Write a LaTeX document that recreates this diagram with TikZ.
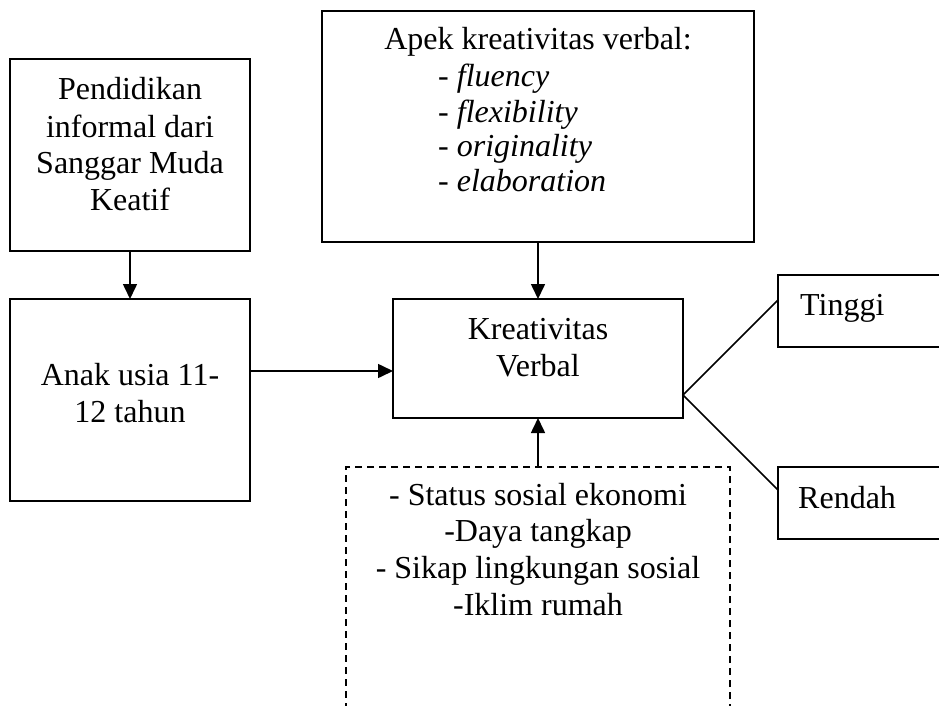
\documentclass[tikz,border=0pt]{standalone}
\usepackage{fontspec}
\setmainfont{Liberation Serif}
\usetikzlibrary{arrows.meta,calc}
\begin{document}
\begin{tikzpicture}[x=1pt,y=-1pt,
  box/.style={draw, line width=1.8pt, inner sep=0pt, outer sep=0pt, anchor=north west},
  dbox/.style={box, dashed, line width=1.5pt, dash pattern=on 7pt off 5pt},
  txt/.style={inner sep=0pt, anchor=base, font=\fontsize{32}{36.8}\selectfont},
  txtl/.style={txt, anchor=base west},
  arr/.style={line width=1.6pt, -{Triangle[length=15pt,width=14pt]}},
  ln/.style={line width=1.6pt}]
\useasboundingbox (0,0) rectangle (939,706);
\clip (0,0) rectangle (939,706);
\fill[white] (0,0) rectangle (939,706);
% boxes
\node[box, minimum width=240pt, minimum height=192pt] (A) at (10,59) {};
\node[box, minimum width=240pt, minimum height=202pt] (B) at (10,299) {};
\node[box, minimum width=432pt, minimum height=231pt] (C) at (322,11) {};
\node[box, minimum width=290pt, minimum height=119pt] (D) at (393,299) {};
\node[dbox, minimum width=384pt, minimum height=280pt] (E) at (346,467) {};
\node[box, minimum width=200pt, minimum height=72pt] (T) at (778,275) {};
\node[box, minimum width=200pt, minimum height=72pt] (R) at (778,467) {};
% texts
\node[txt] (a1) at (130,100) {Pendidikan};
\node[txt] (a2) at (130,137) {informal dari};
\node[txt] (a3) at (130,173) {Sanggar Muda};
\node[txt] (a4) at (130,210) {Keatif};
\node[txt] (b1) at (130,385) {Anak usia 11-};
\node[txt] (b2) at (130,422) {12 tahun};
\node[txt] (c0) at (538,50) {Apek kreativitas verbal:};
\node[txtl] (c1) at (438,87) {- \textit{fluency}};
\node[txtl] (c2) at (438,122) {- \textit{flexibility}};
\node[txtl] (c3) at (438,157) {- \textit{originality}};
\node[txtl] (c4) at (438,191) {- \textit{elaboration}};
\node[txt] (d1) at (538,339) {Kreativitas};
\node[txt] (d2) at (538,376) {Verbal};
\node[txt] (e1) at (538,505) {- Status sosial ekonomi};
\node[txt] (e2) at (538,541) {-Daya tangkap};
\node[txt] (e3) at (538,578) {- Sikap lingkungan sosial};
\node[txt] (e4) at (538,615) {-Iklim rumah};
\node[txtl] (t1) at (800,315) {Tinggi};
\node[txtl] (r1) at (798,508) {Rendah};
% connectors
\draw[arr] (A.south) -- (B.north);
\draw[arr] (C.south) -- (D.north);
\draw[arr] (E.north) -- (D.south);
\coordinate (bd) at (250,371);
\draw[arr] (bd) -- (bd -| D.west);
\coordinate (dr) at (683,395);
\draw[ln] ($(T.north west)+(0,25)$) -- (dr) -- ($(R.north west)+(0,23)$);
\end{tikzpicture}
\end{document}
